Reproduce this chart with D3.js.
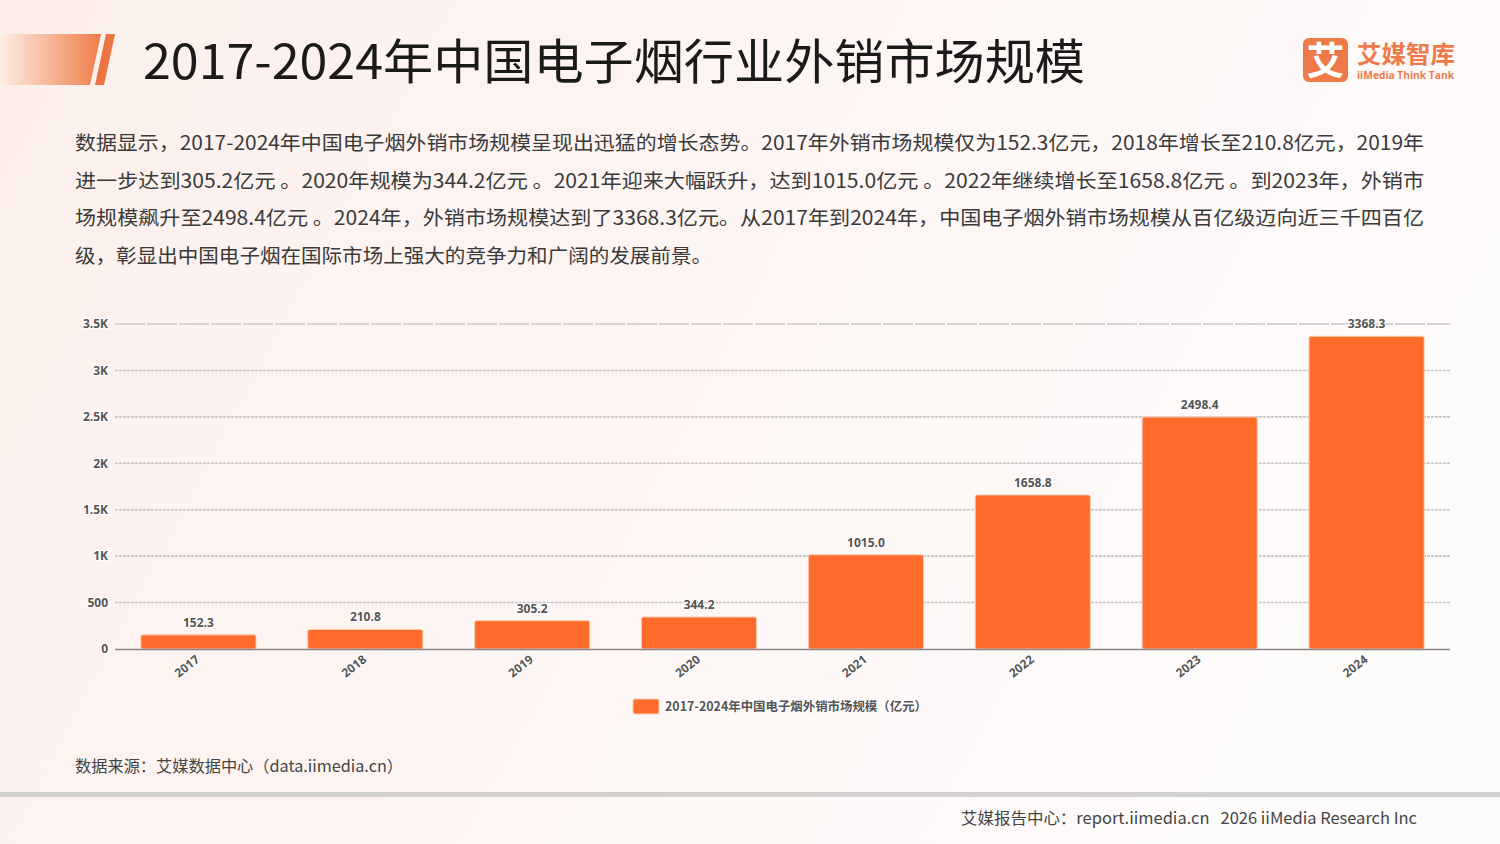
<!DOCTYPE html>
<html><head><meta charset="utf-8">
<script src="https://cdn.jsdelivr.net/npm/d3@7"></script>
<style>
html,body{margin:0;padding:0;}
body{width:1500px;height:844px;overflow:hidden;font-family:"Noto Sans CJK SC","Noto Sans",sans-serif;}
</style></head>
<body>
<svg id="c" width="1500" height="844"></svg>
<script>
const categories = ["2017","2018","2019","2020","2021","2022","2023","2024"];
const values = [152.3, 210.8, 305.2, 344.2, 1015.0, 1658.8, 2498.4, 3368.3];
const tickValues = [0, 500, 1000, 1500, 2000, 2500, 3000, 3500];
const tickLabels = ["0","500","1K","1.5K","2K","2.5K","3K","3.5K"];
const seriesName = "2017-2024年中国电子烟外销市场规模（亿元）";
const titleText = "2017-2024年中国电子烟行业外销市场规模";
const paragraph = [
 "数据显示，2017-2024年中国电子烟外销市场规模呈现出迅猛的增长态势。2017年外销市场规模仅为152.3亿元，2018年增长至210.8亿元，2019年",
 "进一步达到305.2亿元 。2020年规模为344.2亿元 。2021年迎来大幅跃升，达到1015.0亿元 。2022年继续增长至1658.8亿元 。到2023年，外销市",
 "场规模飙升至2498.4亿元 。2024年，外销市场规模达到了3368.3亿元。从2017年到2024年，中国电子烟外销市场规模从百亿级迈向近三千四百亿",
 "级，彰显出中国电子烟在国际市场上强大的竞争力和广阔的发展前景。"
];
const sourceText = "数据来源：艾媒数据中心（data.iimedia.cn）";
const footerText = "艾媒报告中心：report.iimedia.cn   2026 iiMedia Research Inc";

const svg = d3.select("#c");
const defs = svg.append("defs");
const bg = defs.append("linearGradient").attr("id","bg").attr("x1","0").attr("y1","0").attr("x2","1").attr("y2","0.3");
bg.append("stop").attr("offset","0").attr("stop-color","#fcefeb");
bg.append("stop").attr("offset","1").attr("stop-color","#fefbfb");
const hg = defs.append("linearGradient").attr("id","hg").attr("x1","0").attr("x2","1");
hg.append("stop").attr("offset","0").attr("stop-color","#fdeee6");
hg.append("stop").attr("offset","1").attr("stop-color","#ef7c48");

svg.append("rect").attr("width",1500).attr("height",844).attr("fill","url(#bg)");

// header decoration
svg.append("path").attr("d","M0,34 L101,34 L90,85 L0,85 Z").attr("fill","url(#hg)");
svg.append("path").attr("d","M106,34 L115,34 L104,85 L95,85 Z").attr("fill","#ec7442");

svg.append("text").attr("x",143).attr("y",79).attr("font-size",48).attr("fill","#1a1a1a")
  .attr("textLength",942).attr("lengthAdjust","spacingAndGlyphs").text(titleText);

// logo
svg.append("rect").attr("x",1303).attr("y",38).attr("width",45).attr("height",44).attr("rx",6).attr("fill","#ee7a4a");
svg.append("text").attr("x",1325.5).attr("y",74).attr("text-anchor","middle").attr("font-size",38).attr("font-weight","bold").attr("fill","#fff").text("艾");
svg.append("text").attr("x",1357).attr("y",63).attr("font-size",24).attr("font-weight","bold").attr("fill","#ee7a4a")
  .attr("textLength",98).attr("lengthAdjust","spacingAndGlyphs").text("艾媒智库");
svg.append("text").attr("x",1357).attr("y",79).attr("font-size",10.5).attr("font-weight","bold").attr("fill","#ee7a4a")
  .attr("font-family","'Open Sans',sans-serif").attr("textLength",97).attr("lengthAdjust","spacingAndGlyphs").text("iiMedia Think Tank");

// paragraph
paragraph.forEach((t,i)=>{
  const el = svg.append("text").attr("x",75).attr("y",150+i*37.7).attr("font-size",19.8).attr("fill","#3a3a3a").text(t);
  if(i<3) el.attr("textLength",1349).attr("lengthAdjust","spacingAndGlyphs");
  else el.attr("textLength",637).attr("lengthAdjust","spacingAndGlyphs");
});

// chart
const x = d3.scaleBand().domain(categories).range([115,1450]).paddingInner(0.31).paddingOuter(0.155);
const y = d3.scaleLinear().domain([0,3500]).range([649,324]);

const g = svg.append("g");
// gridlines
tickValues.forEach((v,i)=>{
  if(v===0) return;
  const ln = g.append("line").attr("x1",115).attr("x2",1450).attr("y1",y(v)).attr("y2",y(v));
  if(v===3500) ln.attr("stroke","#b5b0b0").attr("stroke-width",1.2).attr("stroke-dasharray","30,2");
  else ln.attr("stroke","#c8c3c3").attr("stroke-width",1.6).attr("stroke-dasharray","3,1");
});

const yAxis = d3.axisLeft(y).tickValues(tickValues).tickFormat((d,i)=>tickLabels[i]).tickSize(0).tickPadding(7);
const ya = svg.append("g").attr("transform","translate(115,0)").call(yAxis);
ya.select(".domain").remove();
ya.selectAll("text").attr("font-size",12).attr("font-weight","bold").attr("fill","#555")
  .attr("stroke","#fff").attr("stroke-width",2).attr("paint-order","stroke")
  .attr("font-family","'Open Sans',sans-serif");

// bars
g.selectAll("rect.bar").data(values).enter().append("rect").attr("class","bar")
  .attr("x",(d,i)=>x(categories[i])).attr("width",x.bandwidth())
  .attr("y",d=>y(d)).attr("height",d=>y(0)-y(d)).attr("rx",2)
  .attr("fill","#ff6b28").attr("stroke","#f8cbb2").attr("stroke-width",1);

// baseline
g.append("line").attr("x1",115).attr("x2",1450).attr("y1",649.5).attr("y2",649.5).attr("stroke","#8a8585").attr("stroke-width",1.5);

// value labels
g.selectAll("text.val").data(values).enter().append("text").attr("class","val")
  .attr("x",(d,i)=>x(categories[i])+x.bandwidth()/2).attr("y",d=>y(d)-8)
  .attr("text-anchor","middle").attr("font-size",12).attr("font-weight","bold").attr("fill","#555")
  .attr("stroke","#fff").attr("stroke-width",2).attr("paint-order","stroke")
  .attr("font-family","'Open Sans',sans-serif").text(d=>d.toFixed(1));

// x axis
const xAxis = d3.axisBottom(x).tickSize(0).tickPadding(0);
const xa = svg.append("g").attr("transform","translate(0,649)").call(xAxis);
xa.select(".domain").remove();
xa.selectAll("text").attr("font-size",12).attr("font-weight","bold").attr("fill","#555")
  .attr("stroke","#fff").attr("stroke-width",2).attr("paint-order","stroke")
  .attr("font-family","'Open Sans',sans-serif")
  .attr("text-anchor","end").attr("dy",0).attr("transform","translate(2,12) rotate(-38)");

// legend
svg.append("rect").attr("x",633).attr("y",699).attr("width",26).attr("height",15).attr("rx",2).attr("fill","#ff6b28").attr("stroke","#f8cbb2");
svg.append("text").attr("x",665).attr("y",711).attr("font-size",12.5).attr("font-weight","bold").attr("fill","#555")
  .attr("stroke","#fff").attr("stroke-width",2).attr("paint-order","stroke")
  .attr("textLength",262).attr("lengthAdjust","spacingAndGlyphs").text(seriesName);

// source & footer
svg.append("text").attr("x",75).attr("y",772).attr("font-size",16).attr("fill","#444")
  .attr("textLength",328).attr("lengthAdjust","spacingAndGlyphs").text(sourceText);
svg.append("rect").attr("x",0).attr("y",792).attr("width",1500).attr("height",5).attr("fill","#d3d0d0");
svg.append("text").attr("x",1417).attr("y",824).attr("text-anchor","end").attr("font-size",16).attr("fill","#444")
  .style("white-space","pre")
  .attr("textLength",456).attr("lengthAdjust","spacingAndGlyphs").text(footerText);
</script>
</body></html>
